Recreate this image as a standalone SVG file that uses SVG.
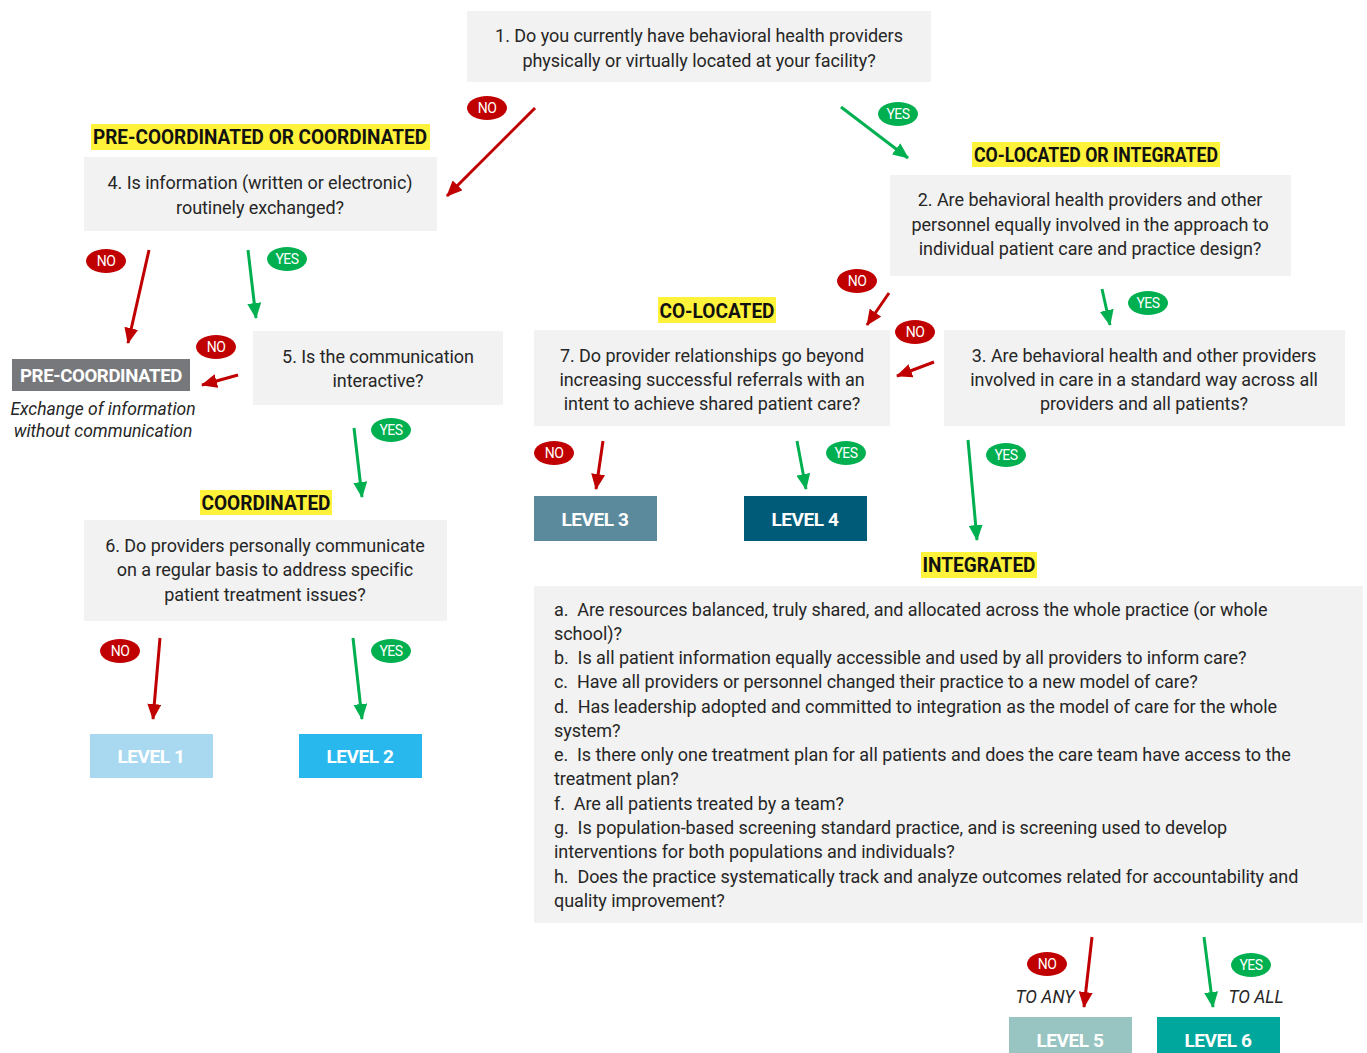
<svg xmlns="http://www.w3.org/2000/svg" width="1367" height="1053" viewBox="0 0 1367 1053">
<defs>
<marker id="ar" viewBox="0 0 16 14" refX="15" refY="7" markerWidth="16" markerHeight="14" markerUnits="userSpaceOnUse" orient="auto"><path d="M0,0 L16,7 L0,14 Z" fill="#c00000"/></marker>
<marker id="ag" viewBox="0 0 16 14" refX="15" refY="7" markerWidth="16" markerHeight="14" markerUnits="userSpaceOnUse" orient="auto"><path d="M0,0 L16,7 L0,14 Z" fill="#00b050"/></marker>
<style>
.box{fill:#f2f2f2}
.q{font-family:Roboto,"Liberation Sans",sans-serif;font-size:18px;fill:#262626;text-anchor:middle;letter-spacing:-0.05px}
.ql{font-family:Roboto,"Liberation Sans",sans-serif;font-size:18px;fill:#262626;letter-spacing:-0.05px;white-space:pre}
.hl{fill:#fff23a}
.ht{font-family:Roboto,"Liberation Sans",sans-serif;font-size:20px;font-weight:bold;fill:#111;text-anchor:middle}
.lv{font-family:Roboto,"Liberation Sans",sans-serif;font-size:19px;font-weight:bold;fill:#fff;text-anchor:middle;letter-spacing:-0.4px}
.bt{font-family:Roboto,"Liberation Sans",sans-serif;font-size:14px;fill:#fff;text-anchor:middle;letter-spacing:-0.5px}
.it{font-family:Roboto,"Liberation Sans",sans-serif;font-size:17.5px;font-style:italic;fill:#262626;text-anchor:middle;letter-spacing:0px}
.no{fill:#c00000}
.yes{fill:#00b050}
.lr{stroke:#c00000;stroke-width:3;fill:none;marker-end:url(#ar)}
.lg{stroke:#00b050;stroke-width:3;fill:none;marker-end:url(#ag)}
</style>
</defs>
<rect width="1367" height="1053" fill="#fff"/>

<g id="q1">
<rect class="box" x="467" y="11" width="464" height="71"/>
<text class="q" x="699" y="42">1. Do you currently have behavioral health providers</text>
<text class="q" x="699" y="67">physically or virtually located at your facility?</text>
</g>

<g id="h-precoord-or-coord">
<rect class="hl" x="91" y="124" width="339" height="26"/>
<text class="ht" x="260" y="144" textLength="334" lengthAdjust="spacingAndGlyphs">PRE-COORDINATED OR COORDINATED</text>
</g>
<g id="q4">
<rect class="box" x="84" y="157" width="353" height="74"/>
<text class="q" x="260" y="189">4. Is information (written or electronic)</text>
<text class="q" x="260" y="214">routinely exchanged?</text>
</g>

<g id="h-coloc-or-int">
<rect class="hl" x="972" y="142" width="248" height="25"/>
<text class="ht" x="1096" y="162" textLength="244" lengthAdjust="spacingAndGlyphs">CO-LOCATED OR INTEGRATED</text>
</g>
<g id="q2">
<rect class="box" x="890" y="175" width="401" height="101"/>
<text class="q" x="1090" y="206">2. Are behavioral health providers and other</text>
<text class="q" x="1090" y="231">personnel equally involved in the approach to</text>
<text class="q" x="1090" y="255">individual patient care and practice design?</text>
</g>

<g id="precoordinated">
<rect x="12" y="359" width="178" height="32" fill="#77787b"/>
<text class="lv" x="101" y="382" textLength="162" lengthAdjust="spacingAndGlyphs">PRE-COORDINATED</text>
<text class="it" x="103" y="415">Exchange of information</text>
<text class="it" x="103" y="437">without communication</text>
</g>

<g id="q5">
<rect class="box" x="253" y="331" width="250" height="74"/>
<text class="q" x="378" y="363">5. Is the communication</text>
<text class="q" x="378" y="387">interactive?</text>
</g>

<g id="h-coordinated">
<rect class="hl" x="200" y="490" width="132" height="25"/>
<text class="ht" x="266" y="510" textLength="129" lengthAdjust="spacingAndGlyphs">COORDINATED</text>
</g>
<g id="q6">
<rect class="box" x="84" y="520" width="363" height="101"/>
<text class="q" x="265" y="552">6. Do providers personally communicate</text>
<text class="q" x="265" y="576">on a regular basis to address specific</text>
<text class="q" x="265" y="601">patient treatment issues?</text>
</g>

<g id="level1"><rect x="90" y="734" width="123" height="44" fill="#a9d9f1"/><text class="lv" x="151" y="763">LEVEL 1</text></g>
<g id="level2"><rect x="299" y="734" width="123" height="44" fill="#29b8ee"/><text class="lv" x="360" y="763">LEVEL 2</text></g>

<g id="h-colocated">
<rect class="hl" x="658" y="297" width="118" height="26"/>
<text class="ht" x="717" y="318" textLength="115" lengthAdjust="spacingAndGlyphs">CO-LOCATED</text>
</g>
<g id="q7">
<rect class="box" x="534" y="330" width="356" height="96"/>
<text class="q" x="712" y="362">7. Do provider relationships go beyond</text>
<text class="q" x="712" y="386">increasing successful referrals with an</text>
<text class="q" x="712" y="410">intent to achieve shared patient care?</text>
</g>

<g id="q3">
<rect class="box" x="944" y="330" width="401" height="96"/>
<text class="q" x="1144" y="362">3. Are behavioral health and other providers</text>
<text class="q" x="1144" y="386">involved in care in a standard way across all</text>
<text class="q" x="1144" y="410">providers and all patients?</text>
</g>

<g id="level3"><rect x="534" y="496" width="123" height="45" fill="#5b8a9d"/><text class="lv" x="595" y="526">LEVEL 3</text></g>
<g id="level4"><rect x="744" y="496" width="123" height="45" fill="#005b78"/><text class="lv" x="805" y="526">LEVEL 4</text></g>

<g id="h-integrated">
<rect class="hl" x="921" y="552" width="116" height="26"/>
<text class="ht" x="979" y="572" textLength="113" lengthAdjust="spacingAndGlyphs">INTEGRATED</text>
</g>
<g id="qint">
<rect class="box" x="534" y="586" width="829" height="337"/>
<text class="ql" x="554" y="616" xml:space="preserve">a.  Are resources balanced, truly shared, and allocated across the whole practice (or whole</text>
<text class="ql" x="554" y="640">school)?</text>
<text class="ql" x="554" y="664" xml:space="preserve">b.  Is all patient information equally accessible and used by all providers to inform care?</text>
<text class="ql" x="554" y="688" xml:space="preserve">c.  Have all providers or personnel changed their practice to a new model of care?</text>
<text class="ql" x="554" y="713" xml:space="preserve">d.  Has leadership adopted and committed to integration as the model of care for the whole</text>
<text class="ql" x="554" y="737">system?</text>
<text class="ql" x="554" y="761" xml:space="preserve">e.  Is there only one treatment plan for all patients and does the care team have access to the</text>
<text class="ql" x="554" y="785">treatment plan?</text>
<text class="ql" x="554" y="810" xml:space="preserve">f.  Are all patients treated by a team?</text>
<text class="ql" x="554" y="834" xml:space="preserve">g.  Is population-based screening standard practice, and is screening used to develop</text>
<text class="ql" x="554" y="858">interventions for both populations and individuals?</text>
<text class="ql" x="554" y="883" xml:space="preserve">h.  Does the practice systematically track and analyze outcomes related for accountability and</text>
<text class="ql" x="554" y="907">quality improvement?</text>
</g>

<g id="level5"><rect x="1009" y="1017" width="123" height="40" fill="#98c4c1"/><text class="lv" x="1070" y="1047">LEVEL 5</text></g>
<g id="level6"><rect x="1157" y="1017" width="123" height="40" fill="#00a79c"/><text class="lv" x="1218" y="1047">LEVEL 6</text></g>
<text class="it" x="1045" y="1003">TO ANY</text>
<text class="it" x="1256" y="1003">TO ALL</text>

<g id="connectors">
<path class="lr" d="M535,108 L447,196"/>
<path class="lg" d="M841,107 L908,158"/>
<path class="lr" d="M149,250 L128,343"/>
<path class="lg" d="M248,250 L256,318"/>
<path class="lr" d="M238,375 L202,385"/>
<path class="lg" d="M354,428 L362,497"/>
<path class="lr" d="M160,638 L153,719"/>
<path class="lg" d="M353,638 L362,719"/>
<path class="lr" d="M889,293 L867,325"/>
<path class="lg" d="M1102,289 L1110,325"/>
<path class="lr" d="M934,362 L897,376"/>
<path class="lr" d="M603,441 L596,489"/>
<path class="lg" d="M797,441 L806,489"/>
<path class="lg" d="M968,440 L977,540"/>
<path class="lr" d="M1092,937 L1084,1007"/>
<path class="lg" d="M1204,937 L1213,1007"/>
</g>

<g id="badges">
<ellipse class="no" cx="487" cy="108" rx="20" ry="12"/><text class="bt" x="487" y="113">NO</text>
<ellipse class="yes" cx="898" cy="114" rx="20" ry="12"/><text class="bt" x="898" y="119">YES</text>
<ellipse class="no" cx="106" cy="261" rx="20" ry="12"/><text class="bt" x="106" y="266">NO</text>
<ellipse class="yes" cx="287" cy="259" rx="20" ry="12"/><text class="bt" x="287" y="264">YES</text>
<ellipse class="no" cx="216" cy="347" rx="20" ry="12"/><text class="bt" x="216" y="352">NO</text>
<ellipse class="yes" cx="391" cy="430" rx="20" ry="12"/><text class="bt" x="391" y="435">YES</text>
<ellipse class="no" cx="120" cy="651" rx="20" ry="12"/><text class="bt" x="120" y="656">NO</text>
<ellipse class="yes" cx="391" cy="651" rx="20" ry="12"/><text class="bt" x="391" y="656">YES</text>
<ellipse class="no" cx="857" cy="281" rx="20" ry="12"/><text class="bt" x="857" y="286">NO</text>
<ellipse class="yes" cx="1148" cy="303" rx="20" ry="12"/><text class="bt" x="1148" y="308">YES</text>
<ellipse class="no" cx="915" cy="332" rx="20" ry="12"/><text class="bt" x="915" y="337">NO</text>
<ellipse class="no" cx="554" cy="453" rx="20" ry="12"/><text class="bt" x="554" y="458">NO</text>
<ellipse class="yes" cx="846" cy="453" rx="20" ry="12"/><text class="bt" x="846" y="458">YES</text>
<ellipse class="yes" cx="1006" cy="455" rx="20" ry="12"/><text class="bt" x="1006" y="460">YES</text>
<ellipse class="no" cx="1047" cy="964" rx="20" ry="12"/><text class="bt" x="1047" y="969">NO</text>
<ellipse class="yes" cx="1251" cy="965" rx="20" ry="12"/><text class="bt" x="1251" y="970">YES</text>
</g>
</svg>
